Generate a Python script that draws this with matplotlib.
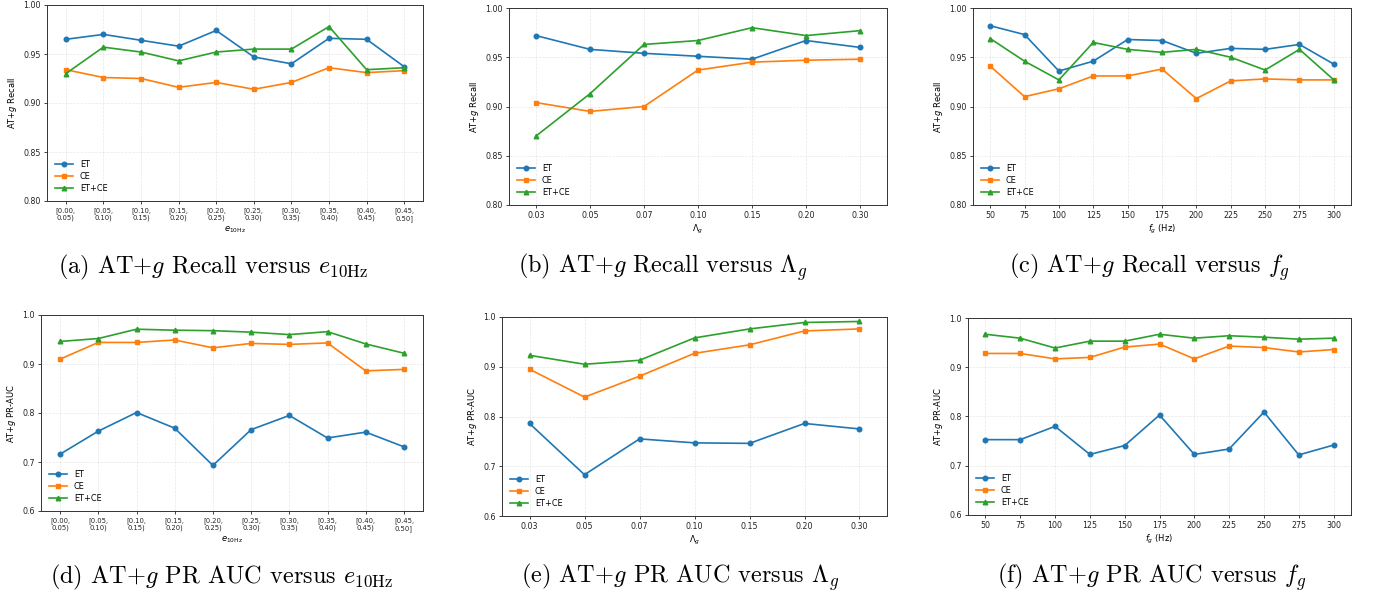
import matplotlib
matplotlib.use("Agg")
import matplotlib.pyplot as plt
import numpy as np

# x categories
ecc_labels = ['[0.00,\n0.05)', '[0.05,\n0.10)', '[0.10,\n0.15)', '[0.15,\n0.20)', '[0.20,\n0.25)',
              '[0.25,\n0.30)', '[0.30,\n0.35)', '[0.35,\n0.40)', '[0.40,\n0.45)', '[0.45,\n0.50]']
lam_labels = ['0.03', '0.05', '0.07', '0.10', '0.15', '0.20', '0.30']
freq_labels = ['50', '75', '100', '125', '150', '175', '200', '225', '250', '275', '300']

# recall vs eccentricity
rec_ecc_et = [0.965, 0.970, 0.964, 0.958, 0.974, 0.947, 0.940, 0.966, 0.965, 0.937]
rec_ecc_ce = [0.934, 0.926, 0.925, 0.916, 0.921, 0.914, 0.921, 0.936, 0.931, 0.933]
rec_ecc_both = [0.930, 0.957, 0.952, 0.943, 0.952, 0.955, 0.955, 0.978, 0.934, 0.936]

# recall vs Lambda_g
rec_lam_et = [0.972, 0.958, 0.954, 0.951, 0.948, 0.967, 0.960]
rec_lam_ce = [0.904, 0.895, 0.900, 0.937, 0.945, 0.947, 0.948]
rec_lam_both = [0.870, 0.913, 0.963, 0.967, 0.980, 0.972, 0.977]

# recall vs f_g
rec_f_et = [0.982, 0.973, 0.936, 0.946, 0.968, 0.967, 0.954, 0.959, 0.958, 0.963, 0.943]
rec_f_ce = [0.941, 0.910, 0.918, 0.931, 0.931, 0.938, 0.908, 0.926, 0.928, 0.927, 0.927]
rec_f_both = [0.969, 0.946, 0.927, 0.965, 0.958, 0.955, 0.958, 0.950, 0.937, 0.958, 0.927]

# PR-AUC vs eccentricity
auc_ecc_et = [0.716, 0.763, 0.801, 0.769, 0.693, 0.766, 0.795, 0.749, 0.761, 0.731]
auc_ecc_ce = [0.910, 0.944, 0.944, 0.949, 0.933, 0.942, 0.940, 0.943, 0.886, 0.889]
auc_ecc_both = [0.946, 0.952, 0.971, 0.969, 0.968, 0.965, 0.960, 0.966, 0.941, 0.922]

# PR-AUC vs Lambda_g
auc_lam_et = [0.786, 0.683, 0.755, 0.747, 0.746, 0.786, 0.775]
auc_lam_ce = [0.895, 0.839, 0.881, 0.927, 0.944, 0.972, 0.976]
auc_lam_both = [0.923, 0.905, 0.913, 0.958, 0.976, 0.989, 0.991]

# PR-AUC vs f_g
auc_f_et = [0.753, 0.753, 0.780, 0.723, 0.741, 0.803, 0.723, 0.734, 0.809, 0.722, 0.742]
auc_f_ce = [0.928, 0.928, 0.917, 0.920, 0.941, 0.947, 0.917, 0.943, 0.940, 0.931, 0.936]
auc_f_both = [0.967, 0.959, 0.939, 0.953, 0.953, 0.967, 0.959, 0.964, 0.961, 0.957, 0.959]

W, H = 1379, 596
fig = plt.figure(figsize=(W / 100, H / 100), dpi=100)

def box(l, t, r, b):
    return [l / W, 1 - b / H, (r - l) / W, (b - t) / H]

panels = [
    (box(47, 5, 423, 201), ecc_labels, (rec_ecc_et, rec_ecc_ce, rec_ecc_both), r'$e_{10\mathrm{Hz}}$',
     r'AT+$g$ Recall', (0.80, 1.00), [0.80, 0.85, 0.90, 0.95, 1.00], '%.2f'),
    (box(509, 8, 887, 205), lam_labels, (rec_lam_et, rec_lam_ce, rec_lam_both), r'$\Lambda_g$',
     r'AT+$g$ Recall', (0.80, 1.00), [0.80, 0.85, 0.90, 0.95, 1.00], '%.2f'),
    (box(973, 8, 1351, 205), freq_labels, (rec_f_et, rec_f_ce, rec_f_both), r'$f_g$ (Hz)',
     r'AT+$g$ Recall', (0.80, 1.00), [0.80, 0.85, 0.90, 0.95, 1.00], '%.2f'),
    (box(41, 315, 423, 511), ecc_labels, (auc_ecc_et, auc_ecc_ce, auc_ecc_both), r'$e_{10\mathrm{Hz}}$',
     r'AT+$g$ PR-AUC', (0.6, 1.0), [0.6, 0.7, 0.8, 0.9, 1.0], '%.1f'),
    (box(502, 317, 887, 516), lam_labels, (auc_lam_et, auc_lam_ce, auc_lam_both), r'$\Lambda_g$',
     r'AT+$g$ PR-AUC', (0.6, 1.0), [0.6, 0.7, 0.8, 0.9, 1.0], '%.1f'),
    (box(968, 318, 1351, 515), freq_labels, (auc_f_et, auc_f_ce, auc_f_both), r'$f_g$ (Hz)',
     r'AT+$g$ PR-AUC', (0.6, 1.0), [0.6, 0.7, 0.8, 0.9, 1.0], '%.1f'),
]

names = ['ET', 'CE', 'ET+CE']
markers = ['o', 's', '^']
colors = ['#1f77b4', '#ff7f0e', '#2ca02c']

for rect, labels, series, xlab, ylab, ylim, yticks, fmt in panels:
    ax = fig.add_axes(rect)
    x = np.arange(len(labels))
    for vals, name, mk, c in zip(series, names, markers, colors):
        ax.plot(x, vals, marker=mk, color=c, label=name, linewidth=1.2, markersize=3.3)
    ax.set_ylim(*ylim)
    ax.set_yticks(yticks)
    ax.set_yticklabels([fmt % v for v in yticks], fontsize=5.7)
    ax.set_xticks(x)
    small = labels is ecc_labels
    ax.set_xticklabels(labels, fontsize=4.9 if small else 5.7, linespacing=1.15)
    ax.set_xlim(-0.5, len(labels) - 0.5)
    ax.set_xlabel(xlab, fontsize=6, labelpad=2)
    ax.set_ylabel(ylab, fontsize=6, labelpad=3)
    ax.grid(True, linestyle='--', linewidth=0.5, alpha=0.3)
    ax.tick_params(length=2.5, width=0.6, pad=2, colors='#222222')
    for s in ax.spines.values():
        s.set_linewidth(0.7)
        s.set_color('#333333')
    ax.legend(loc='lower left', frameon=False, fontsize=5.9, handlelength=2.2,
              labelspacing=0.35, borderaxespad=0.6)

captions = [
    (213, 267, r'(a) AT+$g$ Recall versus $e_{10\mathrm{Hz}}$'),
    (663, 267, r'(b) AT+$g$ Recall versus $\Lambda_g$'),
    (1150, 267, r'(c) AT+$g$ Recall versus $f_g$'),
    (222, 577, r'(d) AT+$g$ PR AUC versus $e_{10\mathrm{Hz}}$'),
    (680, 577, r'(e) AT+$g$ PR AUC versus $\Lambda_g$'),
    (1152, 577, r'(f) AT+$g$ PR AUC versus $f_g$'),
]
for cx, cy, txt in captions:
    fig.text(cx / W, 1 - cy / H, txt, ha='center', va='center', fontsize=17.5,
             family='cmr10', math_fontfamily='cm')

plt.savefig('out.png', dpi=100)
